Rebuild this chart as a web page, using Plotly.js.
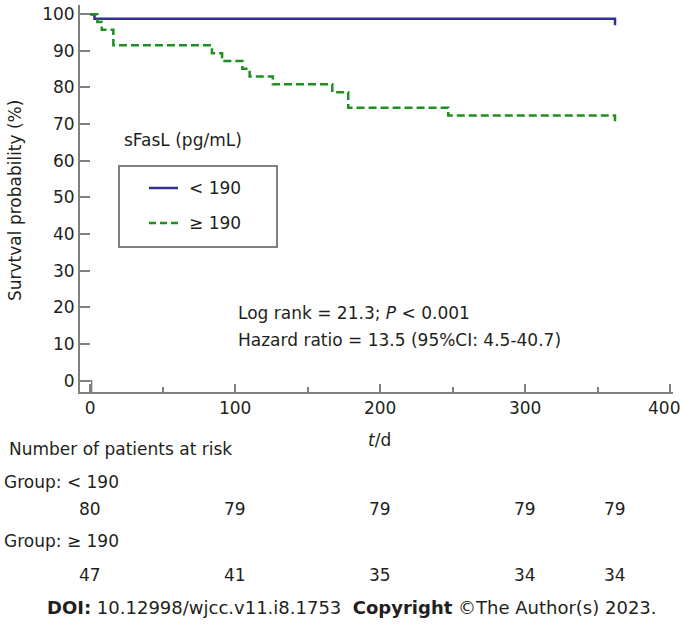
<!DOCTYPE html>
<html><head><meta charset="utf-8">
<script src="https://cdn.plot.ly/plotly-3.0.1.min.js"></script>
<style>html,body{margin:0;padding:0;background:#fff}#chart{width:680px;height:625px}</style>
</head><body><div id="chart"></div>
<script>
// ---- data ----
const lowTime = [0, 3, 362, 362];
const lowSurv = [100, 98.75, 98.75, 97];
const highTime = [0, 5, 8, 16, 16, 84, 91, 105, 110, 126, 167, 178, 178, 247, 362, 362];
const highSurv = [100, 97.87, 95.74, 93.62, 91.49, 89.36, 87.23, 85.11, 82.98, 80.85, 78.72, 76.60, 74.47, 72.34, 72.34, 70.2];
const originMarkX = [-7, 1, 1];
const originMarkY = [0, 0, -3.1];
const riskTimes = [0, 100, 200, 300, 362];
const riskLow = [80, 79, 79, 79, 79];
const riskHigh = [47, 41, 35, 34, 34];
const xTicks = [0, 100, 200, 300, 400];
const xMinorTicks = [50, 150, 250, 350];
const yTicks = [0, 10, 20, 30, 40, 50, 60, 70, 80, 90, 100];
const groupLabels = ['< 190', '≥ 190'];

// ---- layout helpers (pixel -> paper) ----
const L = 80, R = 7, T = 5, B = 233, W = 680, H = 625;
const pw = W - L - R, ph = H - T - B;
const px = v => (v - L) / pw;
const py = v => (H - B - v) / ph;

const BLUE = '#2E3192', GREEN = '#1F8F1F', AX = '#808080', TXT = '#231F20';
const FONT = 'DejaVu Sans';

const traces = [
  {x: lowTime, y: lowSurv, mode: 'lines', line: {shape: 'hv', color: BLUE, width: 2.5}, name: groupLabels[0]},
  {x: highTime, y: highSurv, mode: 'lines', line: {shape: 'hv', color: GREEN, width: 2.5, dash: '8px,4px'}, name: groupLabels[1]},
  {x: originMarkX, y: originMarkY, mode: 'lines', line: {color: AX, width: 1.5}, hoverinfo: 'skip'}
];

const ann = [];
function txt(text, x, y, opts) {
  ann.push(Object.assign({text, x, y, xref: 'paper', yref: 'paper', showarrow: false,
    xanchor: 'left', yanchor: 'middle', font: {family: FONT, size: 17, color: TXT}}, opts || {}));
}
txt('Survtval probability (%)', px(15), py(201), {xanchor: 'center', textangle: -90});
txt('<i>t</i>/d', px(379), py(440), {xanchor: 'center'});
txt('sFasL (pg/mL)', px(122), py(140));
txt(groupLabels[0], px(187), py(188));
txt(groupLabels[1], px(187), py(223));
txt('Log rank = 21.3; <i>P</i> < 0.001', px(236), py(313));
txt('Hazard ratio = 13.5 (95%CI: 4.5-40.7)', px(236), py(340));
txt('Number of patients at risk', px(7), py(449));
txt('Group: ' + groupLabels[0], px(2), py(482));
txt('Group: ' + groupLabels[1], px(2), py(541));
txt('<b>DOI:</b> 10.12998/wjcc.v11.i8.1753  <b>Copyright</b> ©The Author(s) 2023.', px(352), py(607),
  {xanchor: 'center', font: {family: FONT, size: 18, color: TXT}});
riskTimes.forEach((t, i) => {
  ann.push({text: String(riskLow[i]), x: t, y: py(509), xref: 'x', yref: 'paper', showarrow: false,
    xanchor: 'center', yanchor: 'middle', font: {family: FONT, size: 17, color: TXT}});
  ann.push({text: String(riskHigh[i]), x: t, y: py(575), xref: 'x', yref: 'paper', showarrow: false,
    xanchor: 'center', yanchor: 'middle', font: {family: FONT, size: 17, color: TXT}});
});
// last x tick label sits at the right edge, drawn as an annotation so it stays inside the page
const lastTick = xTicks[xTicks.length - 1];
ann.push({text: String(lastTick), x: lastTick, y: py(408), xref: 'x', yref: 'paper', showarrow: false,
  xanchor: 'center', yanchor: 'middle', xshift: -6, font: {family: FONT, size: 17, color: TXT}});

const shapes = [
  {type: 'rect', xref: 'paper', yref: 'paper', x0: px(119), x1: px(277), y0: py(166), y1: py(247),
   line: {color: AX, width: 2}, fillcolor: 'rgba(0,0,0,0)'},
  {type: 'line', xref: 'paper', yref: 'paper', x0: px(149), x1: px(178), y0: py(188), y1: py(188),
   line: {color: BLUE, width: 2.5}},
  {type: 'line', xref: 'paper', yref: 'paper', x0: px(149), x1: px(178), y0: py(223), y1: py(223),
   line: {color: GREEN, width: 2.5, dash: '7px,4px'}}
];

const axisCommon = {showline: true, linecolor: AX, linewidth: 2, ticks: 'inside', tickcolor: AX, tickwidth: 2,
  showgrid: false, zeroline: false, tickfont: {family: FONT, size: 17, color: TXT}, fixedrange: true};

const layout = {
  width: W, height: H, margin: {l: L, r: R, t: T, b: B}, showlegend: false,
  paper_bgcolor: '#fff', plot_bgcolor: '#fff', font: {family: FONT, color: TXT},
  xaxis: Object.assign({}, axisCommon, {range: [-7, 402], tickvals: xTicks,
    ticktext: xTicks.map((v, i) => i === xTicks.length - 1 ? '' : String(v)), ticklen: 8,
    minor: {ticks: 'inside', tickvals: xMinorTicks, ticklen: 5, tickcolor: AX, tickwidth: 2}}),
  yaxis: Object.assign({}, axisCommon, {range: [-3.1, 102.5], tickvals: yTicks, ticktext: yTicks.map(String), ticklen: 10}),
  annotations: ann, shapes: shapes
};

Plotly.newPlot('chart', traces, layout, {displayModeBar: false, staticPlot: true});
</script>
</body></html>
